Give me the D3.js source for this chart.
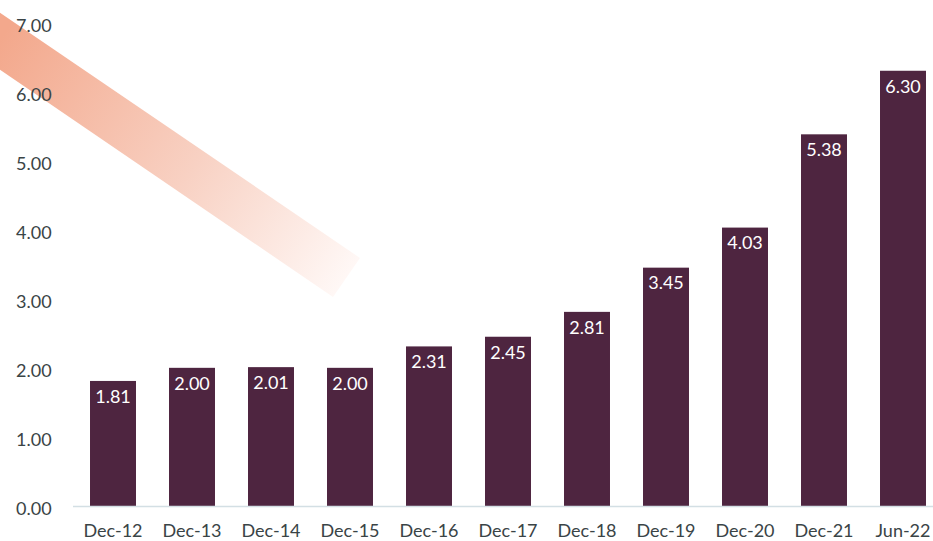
<!DOCTYPE html>
<html>
<head>
<meta charset="utf-8">
<script src="https://d3js.org/d3.v7.min.js"></script>
<style>
body { margin: 0; background: #fff; }
svg { display: block; font-family: Lato, "Open Sans", sans-serif; }
</style>
</head>
<body>
<div id="chart"></div>
<script>
// data
var categories = ["Dec-12", "Dec-13", "Dec-14", "Dec-15", "Dec-16", "Dec-17", "Dec-18", "Dec-19", "Dec-20", "Dec-21", "Jun-22"];
var values = [1.81, 2.00, 2.01, 2.00, 2.31, 2.45, 2.81, 3.45, 4.03, 5.38, 6.30];
var yTicks = [0, 1, 2, 3, 4, 5, 6, 7];

var width = 933, height = 541;

var svg = d3.select("#chart").append("svg")
    .attr("width", width)
    .attr("height", height);

// decorative salmon stripe, fading out
var defs = svg.append("defs");
var grad = defs.append("linearGradient")
    .attr("id", "stripe")
    .attr("gradientUnits", "userSpaceOnUse")
    .attr("x1", 0).attr("y1", 40)
    .attr("x2", 350).attr("y2", 275);
grad.append("stop").attr("offset", "0%").attr("stop-color", "#f3a88c");
grad.append("stop").attr("offset", "55%").attr("stop-color", "#f8d1c3");
grad.append("stop").attr("offset", "100%").attr("stop-color", "#fff8f6");

svg.append("path")
    .attr("d", "M-20,-1 L360,258 L333,297 L-20,56 Z")
    .attr("fill", "url(#stripe)");

var x = d3.scaleBand()
    .domain(categories)
    .range([73.5, 942.5])
    .paddingInner(0.418)
    .paddingOuter(0.209);

var y = d3.scaleLinear()
    .domain([0, 7])
    .range([506, 22.4]);

// y tick labels (no axis line)
svg.append("g").selectAll("text")
    .data(yTicks)
    .enter().append("text")
    .attr("x", 16)
    .attr("y", function(d) { return y(d) + 3; })
    .attr("dy", "0.35em")
    .attr("fill", "#3a4446")
    .style("font-size", "18px")
    .text(function(d) { return d3.format(".2f")(d); });

// bars
svg.append("g").selectAll("rect")
    .data(values)
    .enter().append("rect")
    .attr("x", function(d, i) { return x(categories[i]); })
    .attr("y", function(d) { return y(d); })
    .attr("width", x.bandwidth())
    .attr("height", function(d) { return y(0) - y(d); })
    .attr("fill", "#4e2540");

// baseline
svg.append("line")
    .attr("x1", 73).attr("x2", width)
    .attr("y1", y(0) + 0.5).attr("y2", y(0) + 0.5)
    .attr("stroke", "#d3dfe4")
    .attr("stroke-width", 1.5);

// value labels inside bar tops
svg.append("g").selectAll("text")
    .data(values)
    .enter().append("text")
    .attr("x", function(d, i) { return x(categories[i]) + x.bandwidth() / 2; })
    .attr("y", function(d) { return y(d) + 15.5; })
    .attr("dy", "0.35em")
    .attr("text-anchor", "middle")
    .attr("fill", "#fff")
    .style("font-size", "18px")
    .text(function(d) { return d3.format(".2f")(d); });

// category labels
svg.append("g").selectAll("text")
    .data(categories)
    .enter().append("text")
    .attr("x", function(d) { return x(d) + x.bandwidth() / 2; })
    .attr("y", 530.5)
    .attr("dy", "0.35em")
    .attr("text-anchor", "middle")
    .attr("fill", "#3a4446")
    .style("font-size", "18px")
    .text(function(d) { return d; });
</script>
</body>
</html>
